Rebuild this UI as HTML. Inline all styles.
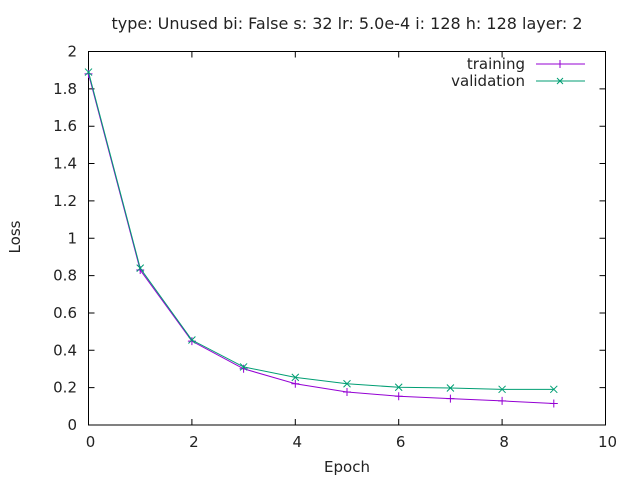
<!DOCTYPE html>
<html><head><meta charset="utf-8"><style>
body{margin:0;background:#fff}
svg text{font-family:"DejaVu Sans","Liberation Sans",sans-serif;font-size:15px;fill:#222}
</style></head><body>
<svg id="chart" width="640" height="480">
<rect width="640" height="480" fill="#fff"/>
<text x="347" y="29" text-anchor="middle" style="font-size:16px">type: Unused bi: False s: 32 lr: 5.0e-4 i: 128 h: 128 layer: 2</text>
<text x="347" y="472" text-anchor="middle">Epoch</text>
<text transform="translate(20,237) rotate(-90)" text-anchor="middle">Loss</text>
<g id="ticks"></g>
<rect x="88.5" y="51.5" width="517" height="373.5" fill="none" stroke="#000"/>
<g id="series"></g>
<g>
<text x="525" y="69" text-anchor="end">training</text>
<line x1="536" y1="64" x2="585" y2="64" stroke="#9400d3"/>
<path d="M560,60v8" stroke="#9400d3"/>
<text x="525" y="86" text-anchor="end">validation</text>
<line x1="536" y1="81" x2="585" y2="81" stroke="#009e73"/>
<path d="M557,78l6,6M557,84l6,-6" stroke="#009e73"/>
</g>
</svg>
<script>
const epochs=[0,1,2,3,4,5,6,7,8,9];
const training=[1.88,0.83,0.449,0.301,0.221,0.177,0.154,0.141,0.129,0.115];
const validation=[1.89,0.84,0.455,0.311,0.255,0.221,0.202,0.198,0.191,0.191];
const xTicks=[0,2,4,6,8,10];
const yTicks=[0,0.2,0.4,0.6,0.8,1,1.2,1.4,1.6,1.8,2];
const NS="http://www.w3.org/2000/svg";
const X=v=>88.5+v*51.7, Y=v=>425-v*186.75;
function mk(t,a,p){const e=document.createElementNS(NS,t);for(const k in a)e.setAttribute(k,a[k]);p.appendChild(e);return e;}
const tg=document.getElementById('ticks');
xTicks.forEach(v=>{
 const l=mk('path',{d:`M${X(v)},425v-6M${X(v)},51.5v6`,stroke:'#000'},tg);
 
 
 const t=mk('text',{x:X(v)+2,y:447,'text-anchor':'middle'},tg);t.textContent=v;
 
 
});
yTicks.forEach(v=>{
 const l=mk('path',{d:`M88.5,${Y(v)}h6M605.5,${Y(v)}h-6`,stroke:'#000'},tg);
 
 
 const t=mk('text',{x:77,y:Y(v)+5,'text-anchor':'end'},tg);t.textContent=String(+v.toFixed(1));
 
 
});
const sg=document.getElementById('series');
function series(vals,color,name,marker){
 const pl=mk('polyline',{points:epochs.map((e,i)=>X(e)+','+Y(vals[i])).join(' '),fill:'none',stroke:color},sg);
 
 
 epochs.forEach((e,i)=>{
  const x=X(e),y=Y(vals[i]);
  const d=marker==='plus'?`M${x-4},${y}h8M${x},${y-4}v8`:`M${x-3.5},${y-3.5}l7,7M${x-3.5},${y+3.5}l7,-7`;
  const m=mk('path',{d:d,stroke:color},sg);
  
  
 });
}
series(training,'#9400d3','training','plus');
series(validation,'#009e73','validation','cross');
</script>
</body></html>
